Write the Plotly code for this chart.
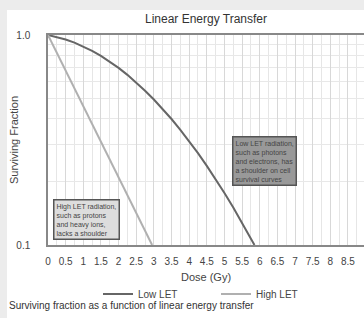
import plotly.graph_objects as go

# Data
low_dose = [0, 0.25, 0.5, 0.75, 1.0, 1.25, 1.5, 1.75, 2.0, 2.25, 2.5, 2.75, 3.0, 3.25,
            3.5, 3.75, 4.0, 4.25, 4.5, 4.75, 5.0, 5.25, 5.5, 5.85]
low_surv = [1.0, 0.979, 0.952, 0.92, 0.882, 0.84, 0.795, 0.747, 0.697, 0.646, 0.594, 0.543,
            0.493, 0.444, 0.398, 0.353, 0.312, 0.274, 0.238, 0.206, 0.177, 0.151, 0.128, 0.1]
high_dose = [0, 0.5, 1.0, 1.5, 2.0, 2.5, 2.95]
high_surv = [1.0, 0.677, 0.458, 0.31, 0.21, 0.142, 0.1]

x_ticks = [0, 0.5, 1, 1.5, 2, 2.5, 3, 3.5, 4, 4.5, 5, 5.5, 6, 6.5, 7, 7.5, 8, 8.5, 9, 9.5, 10]
x_ticktext = ["0", "0.5", "1", "1.5", "2", "2.5", "3", "3.5", "4", "4.5", "5", "5.5",
              "6", "6.5", "7", "7.5", "8", "8.5", "9", "9.5", "10"]
y_ticks = [0.1, 1.0]
y_ticktext = ["0.1", "1.0"]
y_minor = [0.2, 0.3, 0.4, 0.5, 0.6, 0.7, 0.8, 0.9]

FONT = "Liberation Sans, Arial, sans-serif"
W, H = 364, 318
L, R, T, B = 48, 0, 35, 73
pw, ph = W - L - R, H - T - B

def px(xp):
    return (xp - L) / pw

def py(yp):
    return (H - B - yp) / ph

fig = go.Figure()
fig.add_trace(go.Scatter(x=low_dose, y=low_surv, mode="lines", name="Low LET",
                         line=dict(color="#666666", width=2)))
fig.add_trace(go.Scatter(x=high_dose, y=high_surv, mode="lines", name="High LET",
                         line=dict(color="#b0b0b0", width=2)))

fig.update_layout(
    width=W, height=H,
    margin=dict(l=L, r=R, t=T, b=B, autoexpand=False),
    paper_bgcolor="#ececec",
    plot_bgcolor="white",
    font=dict(family=FONT, size=10, color="#444"),
    title=dict(text="Linear Energy Transfer", x=px(206), xref="paper", xanchor="center",
               y=1 - 19 / H, yref="container", yanchor="middle", automargin=False,
               font=dict(size=12, color="#333")),
    showlegend=True,
    legend=dict(orientation="h", x=px(98), xanchor="left", xref="paper",
                y=py(294), yanchor="middle", font=dict(size=10, color="#444"),
                bgcolor="rgba(0,0,0,0)", entrywidth=73, entrywidthmode="pixels",
                itemwidth=30),
    xaxis=dict(range=[0, pw / 35.29], tickvals=x_ticks, ticktext=x_ticktext,
               showgrid=True, gridcolor="#d8d8d8", gridwidth=1,
               minor=dict(dtick=0.25, tick0=0, showgrid=True, gridcolor="#e6e6e6"),
               showline=True, linecolor="#888", linewidth=1.5, mirror=True,
               ticks="", ticklabelstandoff=6, zeroline=False, automargin=False,
               title=dict(text="Dose (Gy)", font=dict(size=11, color="#444"), standoff=8)),
    yaxis=dict(type="log", range=[-1, 0], tickvals=y_ticks, ticktext=y_ticktext,
               showgrid=False,
               minor=dict(tickvals=y_minor, showgrid=True, gridcolor="#e8e8e8"),
               showline=True, linecolor="#888", linewidth=1.5,
               ticks="", ticklabelstandoff=14, zeroline=False, automargin=False),
)

# white chart card
fig.add_shape(type="rect", xref="paper", yref="paper", x0=px(7), x1=px(W + 10),
              y0=py(H + 10), y1=py(10), fillcolor="white", line=dict(width=0), layer="below")

fig.add_annotation(xref="paper", yref="paper", x=px(14), y=py(140), xanchor="center", yanchor="middle",
                   text="Surviving Fraction", textangle=-90, showarrow=False,
                   font=dict(size=11, color="#444"))
fig.add_annotation(xref="paper", yref="paper", x=px(232), y=py(136), xanchor="left", yanchor="top",
                   text="Low LET radiation,<br>such as photons<br>and electrons, has<br>a shoulder on cell<br>survival curves",
                   align="left", showarrow=False, font=dict(size=7, color="#444"),
                   bgcolor="#999999", bordercolor="#555", borderwidth=1.5, borderpad=2)
fig.add_annotation(xref="paper", yref="paper", x=px(53), y=py(199), xanchor="left", yanchor="top",
                   text="High LET radiation,<br>such as protons<br>and heavy ions,<br>lacks a shoulder",
                   align="left", showarrow=False, font=dict(size=7, color="#444"),
                   bgcolor="#dddddd", bordercolor="#555", borderwidth=1.5, borderpad=2)
fig.add_annotation(xref="paper", yref="paper", x=px(7), y=py(305), xanchor="left", yanchor="middle",
                   text="Surviving fraction as a function of linear energy transfer",
                   showarrow=False, font=dict(size=10, color="#333"))

fig.write_html("out.html", config={"displayModeBar": False},
               post_script="document.body.style.margin='0';document.body.style.overflow='hidden';")
